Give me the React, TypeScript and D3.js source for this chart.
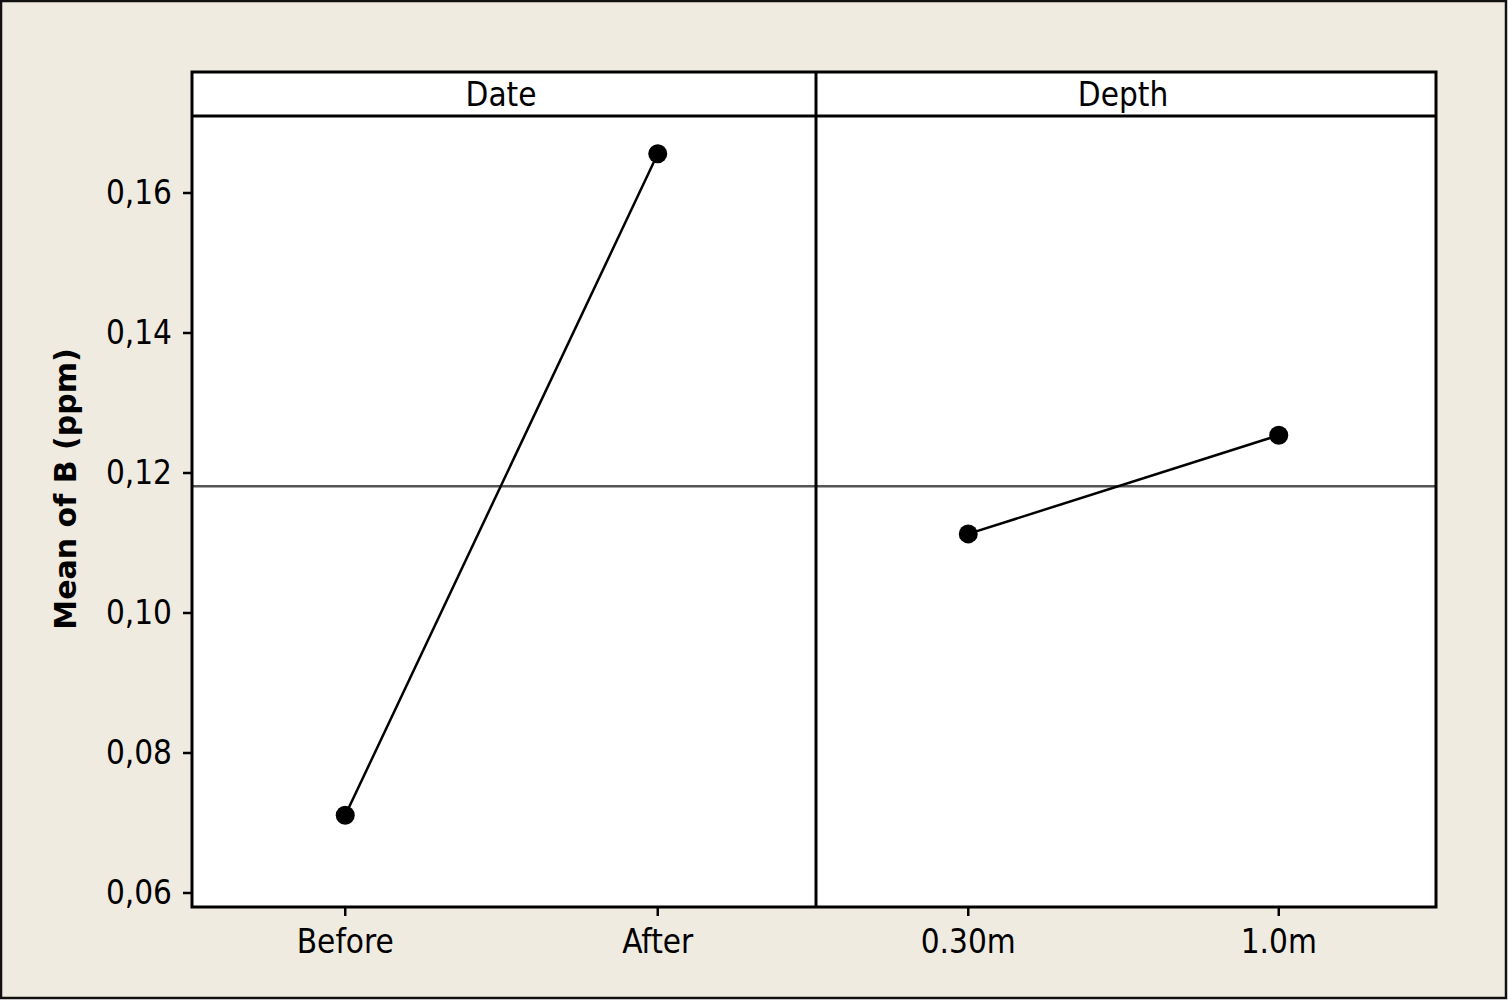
import React from "react";
import * as d3 from "d3";

const W = 1508;
const H = 1000;

const panels = ["Date", "Depth"];
const dateLevels = ["Before", "After"];
const dateMeans = [0.0711, 0.1656];
const depthLevels = ["0.30m", "1.0m"];
const depthMeans = [0.1113, 0.1254];
const grandMean = 0.1181;
const yTicks = [0.06, 0.08, 0.1, 0.12, 0.14, 0.16];
const yLabel = "Mean of B (ppm)";

const FONT = "'DejaVu Sans Condensed', 'DejaVu Sans', sans-serif";

export default function App() {
  const left = 192;
  const right = 1436;
  const mid = 816;
  const headTop = 72;
  const headBottom = 116;
  const bottom = 907;

  const y = d3.scaleLinear().domain([0.06, 0.16]).range([893, 193]);
  const panelDefs = [
    { name: panels[0], levels: dateLevels, values: dateMeans, x0: left, x1: mid },
    { name: panels[1], levels: depthLevels, values: depthMeans, x0: mid, x1: right },
  ];
  const fmt = (v: number) => d3.format(".2f")(v).replace(".", ",");
  const line = d3.line<[number, number]>().x((d) => d[0]).y((d) => d[1]);

  return (
    <svg
      width={W}
      height={H}
      style={{ position: "absolute", left: 0, top: 0, fontFamily: FONT }}
    >
      <rect x={1} y={1} width={W - 3} height={H - 3} fill="#f0ebe1" stroke="#111" strokeWidth={2.5} />
      <rect x={left} y={headTop} width={right - left} height={bottom - headTop} fill="#fff" />
      {/* grand mean reference line */}
      <line x1={left} x2={right} y1={y(grandMean)} y2={y(grandMean)} stroke="#555" strokeWidth={2.5} />
      {panelDefs.map((p, i) => {
        const x = d3.scalePoint<string>().domain(p.levels).range([p.x0 - 3, p.x1 - 2]).padding(0.5);
        const pts: [number, number][] = p.levels.map((l, j) => [x(l) as number, y(p.values[j])]);
        return (
          <g key={p.name}>
            <text
              x={(p.x0 + p.x1) / 2 - 3}
              y={(headTop + headBottom) / 2}
              dy="0.36em"
              textAnchor="middle"
              fontSize={33}
              fill="#000"
            >
              {p.name}
            </text>
            <path d={line(pts) || ""} fill="none" stroke="#000" strokeWidth={2.5} />
            {pts.map((pt, j) => (
              <circle key={j} cx={pt[0]} cy={pt[1]} r={9.5} fill="#000" />
            ))}
            {p.levels.map((l) => (
              <g key={l}>
                <line x1={x(l)} x2={x(l)} y1={bottom} y2={bottom + 9} stroke="#000" strokeWidth={2.5} />
                <text x={x(l)} y={953} textAnchor="middle" fontSize={33} fill="#000">
                  {l}
                </text>
              </g>
            ))}
          </g>
        );
      })}
      {/* frames */}
      <rect x={left} y={headTop} width={right - left} height={bottom - headTop} fill="none" stroke="#000" strokeWidth={3} />
      <line x1={left} x2={right} y1={headBottom} y2={headBottom} stroke="#000" strokeWidth={3} />
      <line x1={mid} x2={mid} y1={headTop} y2={bottom} stroke="#000" strokeWidth={3} />
      {/* y axis ticks */}
      {yTicks.map((t) => (
        <g key={t}>
          <line x1={left - 9} x2={left} y1={y(t)} y2={y(t)} stroke="#000" strokeWidth={2.5} />
          <text x={left - 20} y={y(t)} dy="0.34em" textAnchor="end" fontSize={33} fill="#000">
            {fmt(t)}
          </text>
        </g>
      ))}
      <text
        transform={`translate(65, ${489}) rotate(-90)`}
        textAnchor="middle"
        dy="0.36em"
        fontSize={30}
        fontWeight="bold"
        fontFamily="'DejaVu Sans', sans-serif"
        fill="#000"
      >
        {yLabel}
      </text>
    </svg>
  );
}
